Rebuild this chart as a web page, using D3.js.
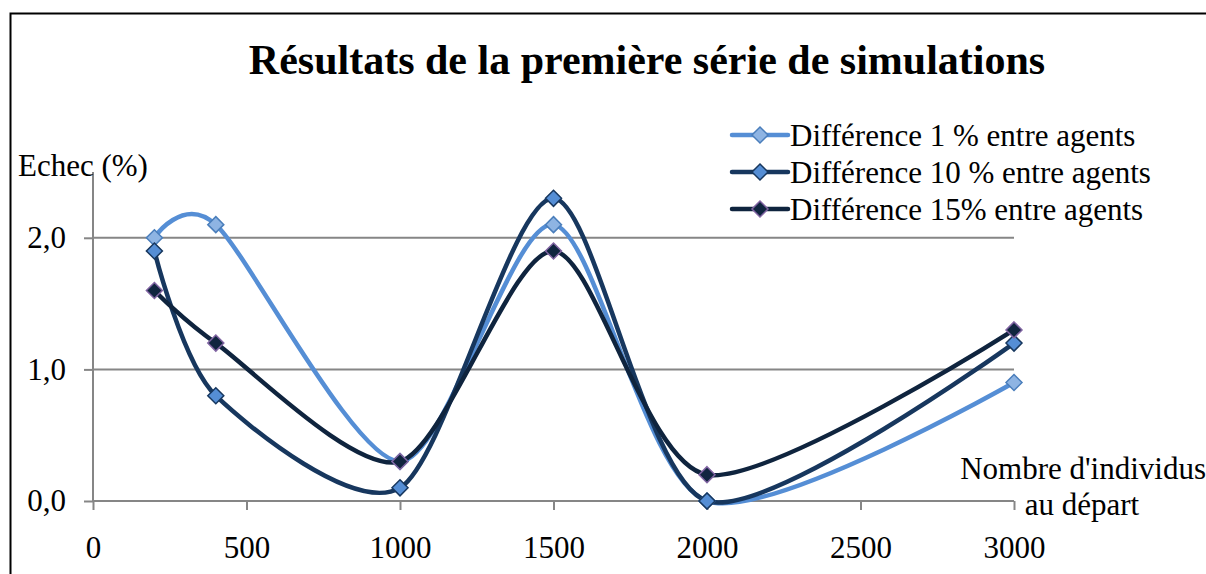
<!DOCTYPE html>
<html><head><meta charset="utf-8">
<script src="https://cdn.jsdelivr.net/npm/d3@7"></script>
<style>body{margin:0;background:#fff}svg{display:block}text{font-family:"Liberation Serif","Times New Roman",serif;fill:#000}</style>
</head><body>
<script>
const xValues = [200, 400, 1000, 1500, 2000, 3000];
const seriesNames = ["Différence 1 % entre agents", "Différence 10 % entre agents", "Différence 15% entre agents"];
const s1 = [2.0, 2.1, 0.3, 2.1, 0.0, 0.9];
const s10 = [1.9, 0.8, 0.1, 2.3, 0.0, 1.2];
const s15 = [1.6, 1.2, 0.3, 1.9, 0.2, 1.3];
const xTicks = [0, 500, 1000, 1500, 2000, 2500, 3000];
const yTicks = [0, 1, 2];
const yTickLabels = ["0,0", "1,0", "2,0"];

const W = 1206, H = 574;
const FS = "31px";
const FF = '"Liberation Serif", "Times New Roman", serif';
const svg = d3.select("body").append("svg").attr("width", W).attr("height", H);
svg.append("rect").attr("x", 10.5).attr("y", 13.5).attr("width", W + 10).attr("height", H + 10)
  .attr("fill", "none").attr("stroke", "#000").attr("stroke-width", 2);

const x = d3.scaleLinear().domain([0, 3000]).range([93, 1014]);
const y = d3.scaleLinear().domain([0, 2.5]).range([501, 172]);

// gridlines
svg.append("g").selectAll("line").data(yTicks.filter(d => d > 0)).join("line")
  .attr("x1", x(0)).attr("x2", x(3000)).attr("y1", d => y(d)).attr("y2", d => y(d))
  .attr("stroke", "#868686").attr("stroke-width", 2);

// y axis
const yAxis = d3.axisLeft(y).tickValues(yTicks).tickSize(9).tickPadding(18)
  .tickFormat((d, i) => yTickLabels[i]);
const gy = svg.append("g").attr("transform", `translate(${x(0)},0)`).call(yAxis)
  .attr("font-family", FF).attr("font-size", FS);
gy.select(".domain").attr("stroke", "#868686").attr("stroke-width", 2).attr("d", `M0,${y(2.5)}V${y(0)}`);
gy.selectAll(".tick line").attr("stroke", "#868686").attr("stroke-width", 2);
gy.selectAll(".tick text").attr("fill", "#000");

// x axis
const xAxis = d3.axisBottom(x).tickValues(xTicks).tickSize(9).tickPadding(26).tickFormat(d3.format("d"));
const gx = svg.append("g").attr("transform", `translate(0,${y(0)})`).call(xAxis)
  .attr("font-family", FF).attr("font-size", FS);
gx.select(".domain").attr("stroke", "#868686").attr("stroke-width", 2).attr("d", `M${x(0)},0H${x(3000)}`);
gx.selectAll(".tick line").attr("stroke", "#868686").attr("stroke-width", 2);
gx.selectAll(".tick text").attr("fill", "#000");

const styles = [
  {line: "#558ED5", fill: "#8EB4E3", stroke: "#4A7EBB"},
  {line: "#17375E", fill: "#558ED5", stroke: "#17375E"},
  {line: "#0F243E", fill: "#10253F", stroke: "#8064A2"}
];
const allSeries = [s1, s10, s15];
const line = d3.line().x(d => x(d[0])).y(d => y(d[1])).curve(d3.curveCardinal.tension(0.2));
const diamond = (cx, cy, r) => `M${cx},${cy - r}L${cx + r},${cy}L${cx},${cy + r}L${cx - r},${cy}Z`;

allSeries.forEach((s, i) => {
  const pts = xValues.map((v, j) => [v, s[j]]);
  svg.append("path").attr("d", line(pts)).attr("fill", "none")
    .attr("stroke", styles[i].line).attr("stroke-width", 4.5);
});
allSeries.forEach((s, i) => {
  const pts = xValues.map((v, j) => [v, s[j]]);
  svg.append("g").selectAll("path").data(pts).join("path")
    .attr("d", d => diamond(x(d[0]), y(d[1]), 8))
    .attr("fill", styles[i].fill).attr("stroke", styles[i].stroke).attr("stroke-width", 1.5);
});

// title
svg.append("text").attr("x", 647).attr("y", 74).attr("text-anchor", "middle")
  .style("font-size", "42px").style("font-weight", "bold")
  .text("Résultats de la première série de simulations");

// axis titles
svg.append("text").attr("x", 18).attr("y", 176).style("font-size", FS).text("Echec (%)");
svg.append("text").attr("x", 1206).attr("y", 479).attr("text-anchor", "end").style("font-size", FS).text("Nombre d'individus");
svg.append("text").attr("x", 1082).attr("y", 515).attr("text-anchor", "middle").style("font-size", FS).text("au départ");

// legend
const lg = svg.append("g");
seriesNames.forEach((n, i) => {
  const cy = 135 + i * 37;
  lg.append("line").attr("x1", 732).attr("x2", 788).attr("y1", cy).attr("y2", cy)
    .attr("stroke", styles[i].line).attr("stroke-width", 4.5).attr("stroke-linecap", "round");
  lg.append("path").attr("d", diamond(760, cy, 8)).attr("fill", styles[i].fill)
    .attr("stroke", styles[i].stroke).attr("stroke-width", 1.5);
  lg.append("text").attr("x", 790).attr("y", cy + 11).style("font-size", FS).text(n);
});
</script>
</body></html>
